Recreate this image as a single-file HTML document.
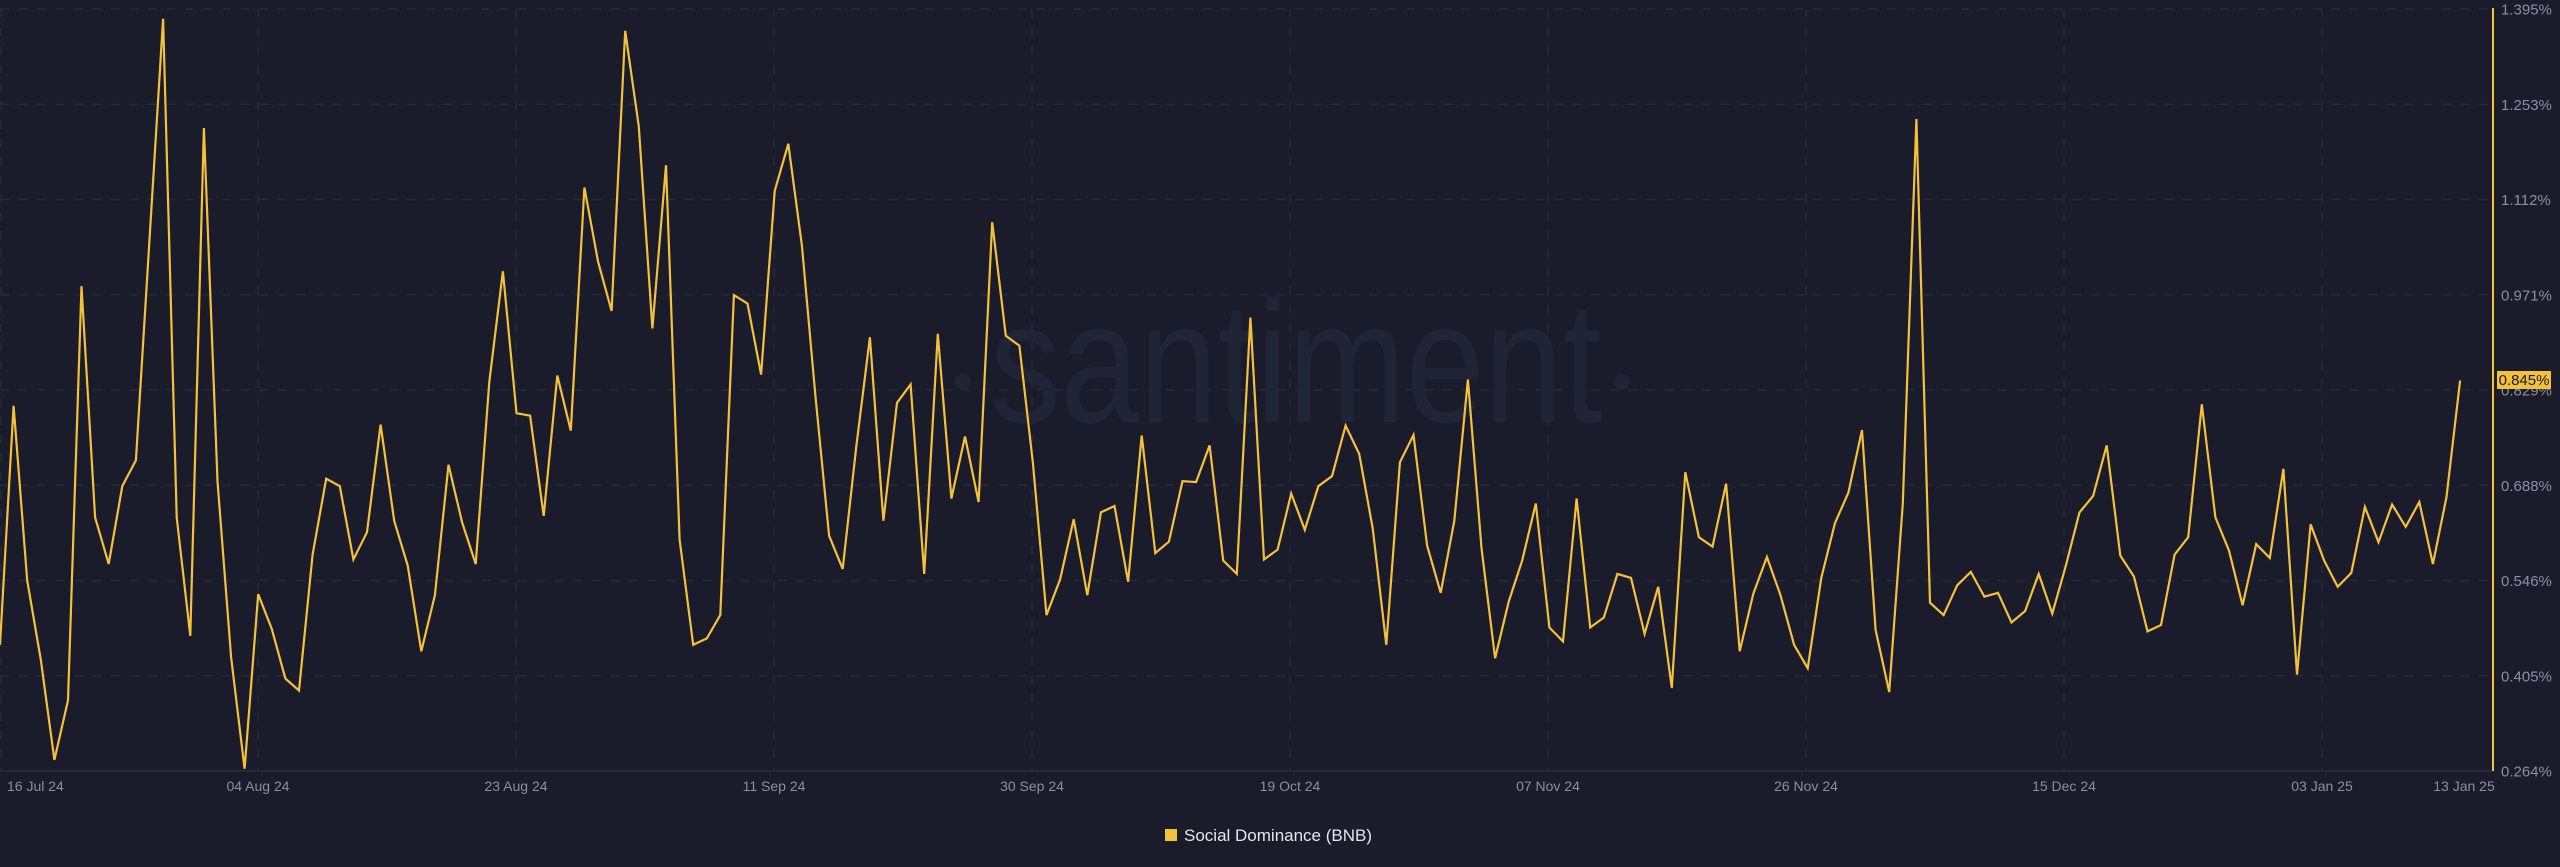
<!DOCTYPE html>
<html><head><meta charset="utf-8"><style>
html,body{margin:0;padding:0;background:#1a1b2b;}
svg{display:block;}
text{font-family:"Liberation Sans",Arial,sans-serif;}
</style></head><body>
<svg id="c" width="2560" height="867" viewBox="0 0 2560 867" xmlns="http://www.w3.org/2000/svg">
<rect width="2560" height="867" fill="#1a1b2b"/>
<g id="grid"></g>
<text x="990" y="422" font-size="173" fill="#1f2437" textLength="612" lengthAdjust="spacingAndGlyphs">santiment</text>
<circle cx="963" cy="382" r="8" fill="#1f2437"/>
<circle cx="1622" cy="382" r="8" fill="#1f2437"/>
<line x1="0" y1="771" x2="2493" y2="771" stroke="#262a3d" stroke-width="2"/>
<line x1="2493" y1="8" x2="2493" y2="771" stroke="#f3c13a" stroke-width="2"/>
<path id="series" fill="none" stroke="#f3c13a" stroke-width="2.2" stroke-linejoin="miter"/>
<g id="ylab" font-size="15" fill="#8a8fa3"></g>
<rect x="2497" y="371" width="54" height="18" fill="#f3c13a"/>
<text x="2524" y="385" font-size="15" fill="#1a1b2b" text-anchor="middle">0.845%</text>
<g id="xlab" font-size="14" fill="#8a8fa3"></g>
<rect x="1165" y="829" width="12" height="12" fill="#f3c13a"/>
<text x="1184" y="841" font-size="17" fill="#e6e6e6">Social Dominance (BNB)</text>
</svg>
<script>
var ns="http://www.w3.org/2000/svg";
function el(t,a,p,txt){var e=document.createElementNS(ns,t);for(var k in a)e.setAttribute(k,a[k]);if(txt)e.textContent=txt;p.appendChild(e);return e;}
var g=document.getElementById('grid');
for(var k=0;k<8;k++){var y=9+95.25*k;el('line',{x1:0,y1:y,x2:2493,y2:y,stroke:'#262a3b','stroke-width':1.5,'stroke-dasharray':'9 9.5'},g);}
for(var k=0;k<10;k++){var x=258*k+(k==0?1:0);el('line',{x1:x,y1:9,x2:x,y2:771,stroke:'#262a3b','stroke-width':1.5,'stroke-dasharray':'9 9.5'},g);}
var yl=document.getElementById('ylab');
var labs=['1.395%','1.253%','1.112%','0.971%','0.829%','0.688%','0.546%','0.405%','0.264%'];
for(var k=0;k<9;k++){var y=9+95.25*k;el('text',{x:2501,y:y+5.5},yl,labs[k]);}
var xl=document.getElementById('xlab');
var dl=['16 Jul 24','04 Aug 24','23 Aug 24','11 Sep 24','30 Sep 24','19 Oct 24','07 Nov 24','26 Nov 24','15 Dec 24','03 Jan 25'];
for(var k=0;k<10;k++){if(k==0)el('text',{x:7,y:791},xl,dl[k]);else el('text',{x:258*k,y:791,'text-anchor':'middle'},xl,dl[k]);}
el('text',{x:2464,y:791,'text-anchor':'middle'},xl,'13 Jan 25');
var z=[1300,818,1170,1330,1532,1412,577,1043,1137,980,928,483,38,1043,1282,258,970,1325,1550,1198,1268,1368,1392,1118,965,980,1128,1073,856,1050,1140,1313,1200,937,1053,1137,770,547,833,
838,1040,757,868,378,527,627,62,255,662,333,1088,1300,1287,1240,595,612,755,385,290,495,800,1080,1147,900,680,1050,812,775,1157,673,1005,880,1012,448,677,697,
935,1240,1168,1047,1200,1033,1020,1173,878,1115,1092,970,972,898,1130,1157,640,1128,1108,995,1068,980,960,858,915,1065,1300,932,877,1100,1195,1050,765,1105,1327,1213,
1130,1015,1265,1293,1005,1265,1245,1157,1165,1278,1183,1387,952,1083,1102,975,1313,1197,1123,1200,1300,1347,1165,1055,993,867,1270,1395,1015,240,1215,1240,1180,1153,1203,1195,1255,
1232,1157,1237,1140,1033,1000,898,1120,1162,1273,1260,1118,1083,815,1043,1110,1220,1097,1125,945,1360,1057,1130,1183,1155,1022,1093,1017,1062,1012,1137,1002,767];
var d='';
for(var i=0;i<z.length;i++){var x=(i*13.5915).toFixed(1),y=(z[i]/2.016).toFixed(1);d+=(i?'L':'M')+x+' '+y;}
document.getElementById('series').setAttribute('d',d);
</script>
</body></html>
